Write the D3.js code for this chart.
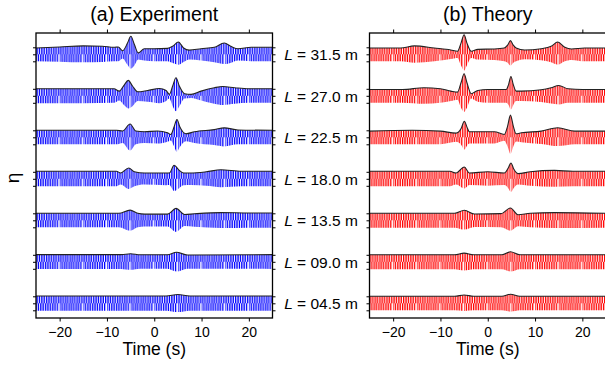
<!DOCTYPE html>
<html>
<head>
<meta charset="utf-8">
<script src="https://cdn.jsdelivr.net/npm/d3@7"></script>
<style>
  body { margin: 0; background: #fff; }
  text { font-family: "Liberation Sans", Arial, sans-serif; fill: #000; }
</style>
</head>
<body>
<svg width="605" height="367"></svg>
<script>
// propagation distances, top to bottom
var lengths = ['31.5', '27.0', '22.5', '18.0', '13.5', '09.0', '04.5'];
var xTicks = [-20, -10, 0, 10, 20];
var ampTicks = [-1, 0, 1];
var carrierPeriod = 0.5; // s

// envelope points: [time (s), crest, trough], in units of the background wave amplitude
var exp31_5 = [[-25,0.9,1.0],[-20,1.05,1.05],[-15,1.2,1.15],[-11,1.15,1.1],[-8.5,1.0,1.0],[-7.6,1.05,1.0],[-6.7,0.5,0.6],[-5.65,1.6,1.5],[-4.95,2.57,2.05],[-4.2,1.4,1.6],[-3.4,0.2,0.75],[-2.1,0.8,0.9],[0,0.8,1.0],[2.8,0.85,1.0],[3.9,1.15,1.25],[5.1,1.76,1.5],[6.2,0.9,1.1],[7.4,0.6,0.75],[9.9,0.8,0.9],[12.7,1.0,1.15],[14.8,1.62,1.4],[16.3,1.1,1.2],[17.7,0.8,0.9],[20.5,1.0,1.0],[25,1.0,1.0]];
var exp27_0 = [[-25,1.0,1.05],[-15,1.0,1.05],[-8.5,1.0,1.0],[-7.4,0.67,0.67],[-6.4,1.5,1.33],[-5.5,2.2,1.8],[-4.6,1.4,1.5],[-3.5,0.57,0.76],[-1.4,0.76,0.86],[1.1,1.05,1.05],[2.5,0.76,0.76],[3.2,0.2,0.4],[3.9,1.4,1.5],[4.6,2.57,2.2],[5.3,1.4,1.5],[6.4,0.3,0.4],[7.8,0.2,0.3],[9.9,0.67,0.67],[12.7,1.15,1.15],[14.5,1.33,1.33],[17,1.15,1.15],[20,1.0,1.0],[25,1.0,1.0]];
var exp22_5 = [[-25,1.0,1.0],[-8,1.0,1.0],[-6.7,0.9,0.8],[-5.1,1.9,1.9],[-3.9,0.9,1.0],[-2.1,0.8,0.8],[0.7,0.9,0.9],[2.8,0.65,0.65],[3.5,0.4,0.45],[4.2,1.5,1.3],[4.8,2.55,2.07],[5.4,1.5,1.4],[6.7,0.5,0.55],[8.5,0.8,0.8],[12.7,1.1,1.1],[14.8,1.35,1.3],[17.7,1.05,1.0],[25,1.0,1.0]];
var exp18_0 = [[-25,1.07,1.07],[-8,1.07,1.07],[-7.1,0.83,0.83],[-5.4,1.55,1.45],[-4.2,1.0,1.07],[-2.1,0.83,0.83],[2.5,0.83,0.93],[3.2,0.83,0.9],[4.2,1.93,1.75],[5.3,1.2,1.3],[6.2,0.83,0.93],[7.8,0.83,0.9],[11,1.0,1.0],[14.1,1.3,1.2],[18.4,1.07,1.07],[25,1.07,1.07]];
var exp13_5 = [[-25,1.0,1.0],[-7.5,1.0,1.0],[-5.1,1.45,1.5],[-3.5,1.0,1.0],[-2,0.88,0.88],[2.8,0.88,0.88],[4.6,1.7,1.65],[6.4,0.83,0.8],[8.5,0.93,0.93],[14.1,1.1,1.1],[20,1.05,1.05],[25,1.05,1.05]];
var exp09_0 = [[-25,1.02,1.02],[-7,1.02,1.02],[-5,1.15,1.15],[-3,1.0,1.0],[2.8,1.0,1.0],[4.7,1.36,1.4],[7,0.98,0.98],[25,1.02,1.02]];
var exp04_5 = [[-25,1.05,1.05],[2.5,1.05,1.05],[5,1.25,1.25],[7.5,1.05,1.05],[25,1.05,1.05]];

var th31_5 = [[-25,0.9,1.0],[-18.4,0.9,1.0],[-15.5,1.2,1.2],[-11.3,0.9,1.0],[-7.8,0.62,0.67],[-6.4,0.43,0.52],[-5.65,1.6,1.6],[-5.0,2.8,2.33],[-4.4,1.6,1.57],[-3.5,0.43,0.52],[-2.1,0.71,0.76],[1.4,0.76,0.81],[3.5,0.9,1.0],[4.2,1.3,1.2],[4.8,1.95,1.62],[5.4,1.3,1.2],[6.0,0.9,1.0],[7.8,0.62,0.71],[11.3,0.8,0.86],[13.4,1.14,1.14],[14.8,1.76,1.48],[16.3,1.0,1.0],[17.7,0.76,0.8],[20.5,0.9,1.0],[25,0.9,1.0]];
var th27_0 = [[-25,0.9,1.0],[-18,0.9,1.0],[-13.5,1.15,1.15],[-10,1.0,1.0],[-7.8,0.67,0.76],[-6.4,0.52,0.55],[-5.65,1.86,1.7],[-5.0,3.14,2.3],[-4.4,1.86,1.7],[-3.5,0.3,0.4],[-2.1,0.76,0.86],[0,0.9,1.0],[3.9,0.9,1.0],[4.4,1.6,1.3],[4.9,2.76,1.95],[5.4,1.6,1.3],[6.0,0.67,0.76],[7.1,0.67,0.76],[11.3,0.86,0.9],[13.4,1.15,1.1],[15.0,1.48,1.24],[17,1.0,1.0],[20,0.9,1.0],[25,0.9,1.0]];
var th22_5 = [[-25,0.88,1.0],[-16,1.0,1.0],[-10,0.88,1.0],[-6.7,0.6,0.65],[-5.6,1.3,1.1],[-4.95,2.3,1.75],[-4.3,1.3,1.1],[-3.9,0.8,0.9],[-2.1,0.8,0.9],[1.4,0.8,0.88],[3.5,0.4,0.5],[4.2,1.6,1.3],[4.8,3.17,2.36],[5.4,1.6,1.3],[6.0,0.5,0.6],[7.1,0.64,0.7],[11.3,0.88,0.95],[14.8,1.36,1.26],[18.4,0.88,1.0],[25,0.88,1.0]];
var th18_0 = [[-25,1.07,1.07],[-8,1.07,1.07],[-6.7,0.83,0.83],[-4.95,1.69,1.4],[-3.9,0.83,0.9],[0,1.0,1.0],[3.5,0.83,0.9],[4.3,1.5,1.3],[4.9,2.26,1.88],[5.5,1.4,1.3],[6.4,0.74,0.8],[9,1.0,1.0],[14.1,1.2,1.15],[18,1.07,1.07],[25,1.07,1.07]];
var th13_5 = [[-25,1.0,1.05],[-7,1.0,1.05],[-4.95,1.43,1.33],[-2.8,0.9,0.95],[2.8,0.95,1.0],[4.8,1.76,1.48],[6.4,0.8,0.85],[9,1.0,1.0],[14.1,1.1,1.1],[25,1.0,1.05]];
var th09_0 = [[-25,1.0,1.05],[-7,1.0,1.05],[-5,1.24,1.24],[-3,1.0,1.05],[3,1.0,1.05],[4.8,1.43,1.38],[6.8,1.0,1.05],[25,1.0,1.05]];
var th04_5 = [[-25,1.0,1.0],[-7,1.0,1.0],[-5,1.19,1.1],[-3,1.0,1.0],[3,1.0,1.0],[4.8,1.29,1.19],[6.8,1.0,1.0],[25,1.0,1.0]];

var experiment = [exp31_5, exp27_0, exp22_5, exp18_0, exp13_5, exp09_0, exp04_5];
var theory = [th31_5, th27_0, th22_5, th18_0, th13_5, th09_0, th04_5];

var plotTop = 33;
var plotBottom = 318;

var panels = [
  { id: 'exp', x0: 36, x1: 272.5, traces: experiment, color: '#0000ff', title: '(a) Experiment' },
  { id: 'th', x0: 369.5, x1: 606, traces: theory, color: '#ff0000', title: '(b) Theory' }
];

var svg = d3.select('svg');
var defs = svg.append('defs');

var yTrace = d3.scalePoint()
               .domain(lengths)
               .range([54.3, 303.3]);

var amp = d3.scaleLinear()
            .domain([-1, 1])
            .range([7, -7]);

panels.forEach(function(p) {
  var xScale = d3.scaleLinear()
                 .domain([-25, 25])
                 .range([p.x0, p.x1]);

  // carrier stripes: one tile holds ten carrier periods to avoid rounding of tiny tiles
  var period = xScale(carrierPeriod) - xScale(0);
  var pat = defs.append('pattern')
      .attr('id', 'carrier-' + p.id)
      .attr('patternUnits', 'userSpaceOnUse')
      .attr('x', xScale(0))
      .attr('y', 0)
      .attr('width', period * 10)
      .attr('height', 400);
  pat.selectAll('path')
    .data(d3.range(10))
    .enter()
    .append('path')
      .attr('d', k => 'M' + (k * period) + ',0 L' + (k * period + period * 0.45) + ',400')
      .attr('stroke', p.color)
      .attr('stroke-width', 1.35);

  defs.append('clipPath')
      .attr('id', 'clip-' + p.id)
    .append('rect')
      .attr('x', p.x0)
      .attr('y', plotTop)
      .attr('width', p.x1 - p.x0)
      .attr('height', plotBottom - plotTop);

  var area = d3.area()
               .x(d => xScale(d[0]))
               .y0(d => amp(-d[2]))
               .y1(d => amp(d[1]))
               .curve(d3.curveMonotoneX);

  var crest = d3.line()
                .x(d => xScale(d[0]))
                .y(d => amp(d[1]))
                .curve(d3.curveMonotoneX);

  var plot = svg.append('g')
      .attr('clip-path', 'url(#clip-' + p.id + ')');

  var trace = plot.selectAll('g.trace')
    .data(p.traces)
    .enter()
    .append('g')
      .attr('class', 'trace')
      .attr('transform', (d, i) => 'translate(0,' + yTrace(lengths[i]) + ')');

  trace.append('path')
      .attr('d', area)
      .attr('fill', 'url(#carrier-' + p.id + ')');

  trace.append('path')
      .attr('d', crest)
      .attr('fill', 'none')
      .attr('stroke', '#222')
      .attr('stroke-width', 1.1);

  // per-trace amplitude ticks on both sides
  lengths.forEach(function(L) {
    svg.append('g')
        .attr('transform', 'translate(' + p.x0 + ',' + yTrace(L) + ')')
        .call(d3.axisLeft(amp).tickValues(ampTicks).tickSize(3).tickFormat(''))
        .call(g => g.select('.domain').remove());
    svg.append('g')
        .attr('transform', 'translate(' + p.x1 + ',' + yTrace(L) + ')')
        .call(d3.axisRight(amp).tickValues(ampTicks).tickSize(3).tickFormat(''))
        .call(g => g.select('.domain').remove());
  });

  svg.append('g')
      .attr('transform', 'translate(0,' + plotTop + ')')
      .call(d3.axisTop(xScale).tickValues(xTicks).tickSize(3.5).tickFormat(''))
      .call(g => g.select('.domain').remove());

  var xAxis = svg.append('g')
      .attr('transform', 'translate(0,' + plotBottom + ')')
      .call(d3.axisBottom(xScale).tickValues(xTicks).tickSize(3.5).tickPadding(5.5))
      .call(g => g.select('.domain').remove());
  xAxis.selectAll('text')
      .style('font-size', '14px')
      .style('font-family', '"Liberation Sans", Arial, sans-serif');

  svg.selectAll('.tick line')
      .attr('stroke-width', 1);

  svg.append('rect')
      .attr('x', p.x0)
      .attr('y', plotTop)
      .attr('width', p.x1 - p.x0)
      .attr('height', plotBottom - plotTop)
      .attr('fill', 'none')
      .attr('stroke', '#000')
      .attr('stroke-width', 1.3);

  svg.append('text')
      .attr('x', xScale(0))
      .attr('y', 21)
      .style('text-anchor', 'middle')
      .style('font-size', '19.5px')
      .text(p.title);

  svg.append('text')
      .attr('x', xScale(0))
      .attr('y', 355)
      .style('text-anchor', 'middle')
      .style('font-size', '17.5px')
      .text('Time (s)');
});

// distance labels between the panels
var label = svg.selectAll('text.len')
  .data(lengths)
  .enter()
  .append('text')
    .attr('class', 'len')
    .attr('x', 321)
    .attr('y', d => yTrace(d) + 6)
    .style('text-anchor', 'middle')
    .style('font-size', '15.5px');
label.append('tspan')
    .style('font-style', 'italic')
    .text('L');
label.append('tspan')
    .text(d => ' = ' + d + ' m');

svg.append('text')
    .attr('transform', 'translate(19,178) rotate(-90)')
    .style('text-anchor', 'middle')
    .style('font-size', '19px')
    .text('η');
</script>
</body>
</html>
